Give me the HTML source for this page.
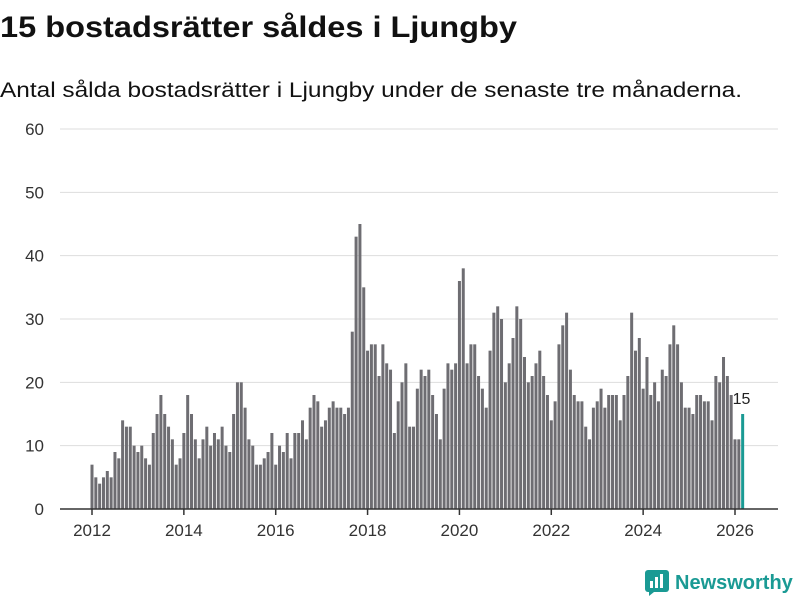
<!DOCTYPE html>
<html><head><meta charset="utf-8"><style>
body{margin:0;width:800px;height:600px;background:#fff;font-family:"Liberation Sans",sans-serif;overflow:hidden;position:relative}
</style></head><body>
<svg id="c" width="800" height="600" style="position:absolute;left:0;top:0">
<text x="0" y="37" font-size="30" font-weight="bold" fill="#111" font-family="Liberation Sans" textLength="517" lengthAdjust="spacingAndGlyphs">15 bostadsrätter såldes i Ljungby</text>
<text x="0" y="97" font-size="21" fill="#111" font-family="Liberation Sans" textLength="742" lengthAdjust="spacingAndGlyphs">Antal sålda bostadsrätter i Ljungby under de senaste tre månaderna.</text>
</svg>
<div style="position:absolute;left:645px;top:570px;display:flex;align-items:center;gap:6px">
<svg width="24" height="26"><rect x="0" y="0" width="24" height="22" rx="3" fill="#1a9a94"/><rect x="5" y="11" width="3" height="7" fill="#fff"/><rect x="10" y="7" width="3" height="11" fill="#fff"/><rect x="15" y="4" width="3" height="14" fill="#fff"/><path d="M4 22 L4 26 L9 22Z" fill="#1a9a94"/></svg>
<span style="color:#1a9a94;font-weight:bold;font-size:20px">Newsworthy</span></div>
<script>
const startYear=2012;
const values=[7,5,4,5,6,5,9,8,14,13,13,10,
9,10,8,7,12,15,18,15,13,11,7,8,
12,18,15,11,8,11,13,10,12,11,13,10,
9,15,20,20,16,11,10,7,7,8,9,12,
7,10,9,12,8,12,12,14,11,16,18,17,
13,14,16,17,16,16,15,16,28,43,45,35,
25,26,26,21,26,23,22,12,17,20,23,13,
13,19,22,21,22,18,15,11,19,23,22,23,
36,38,23,26,26,21,19,16,25,31,32,30,
20,23,27,32,30,24,20,21,23,25,21,18,
14,17,26,29,31,22,18,17,17,13,11,16,
17,19,16,18,18,18,14,18,21,31,25,27,
19,24,18,20,17,22,21,26,29,26,20,16,
16,15,18,18,17,17,14,21,20,24,21,18,
11,11,15];
const yTicks=[0,10,20,30,40,50,60];
const xTicks=[2012,2014,2016,2018,2020,2022,2024,2026];
const svg=document.getElementById('c'),NS='http://www.w3.org/2000/svg';
const y=v=>509-v*380/60;
const x=m=>92+m*(735-92)/168;
function el(t,a){const e=document.createElementNS(NS,t);for(const k in a)e.setAttribute(k,a[k]);svg.appendChild(e);return e;}
yTicks.forEach(t=>{const g=el('line',{x1:60,x2:778,y1:y(t),y2:y(t),stroke:'#ddd','stroke-width':1});


const l=el('text',{x:44,y:y(t)+6,'text-anchor':'end','font-size':17,fill:'#333','font-family':'Liberation Sans'});l.textContent=t;

});
values.forEach((v,i)=>{const last=i===values.length-1;
const r=el('rect',{x:x(i)-1.5,y:y(v),width:3,height:509-y(v),fill:last?'#1a9a94':'#6e6d72'});


if(last){const t=el('text',{x:x(i)-10,y:y(v)-10,'font-size':16,fill:'#222','font-family':'Liberation Sans'});t.textContent=v;

}});
el('line',{x1:60,x2:778,y1:509,y2:509,stroke:'#333','stroke-width':1.5});
xTicks.forEach(yr=>{const xx=x((yr-startYear)*12);
el('line',{x1:xx,x2:xx,y1:509,y2:515,stroke:'#333','stroke-width':1.5});
const t=el('text',{x:xx,y:536,'text-anchor':'middle','font-size':17,fill:'#333','font-family':'Liberation Sans'});t.textContent=yr;

});
</script>
</body></html>
